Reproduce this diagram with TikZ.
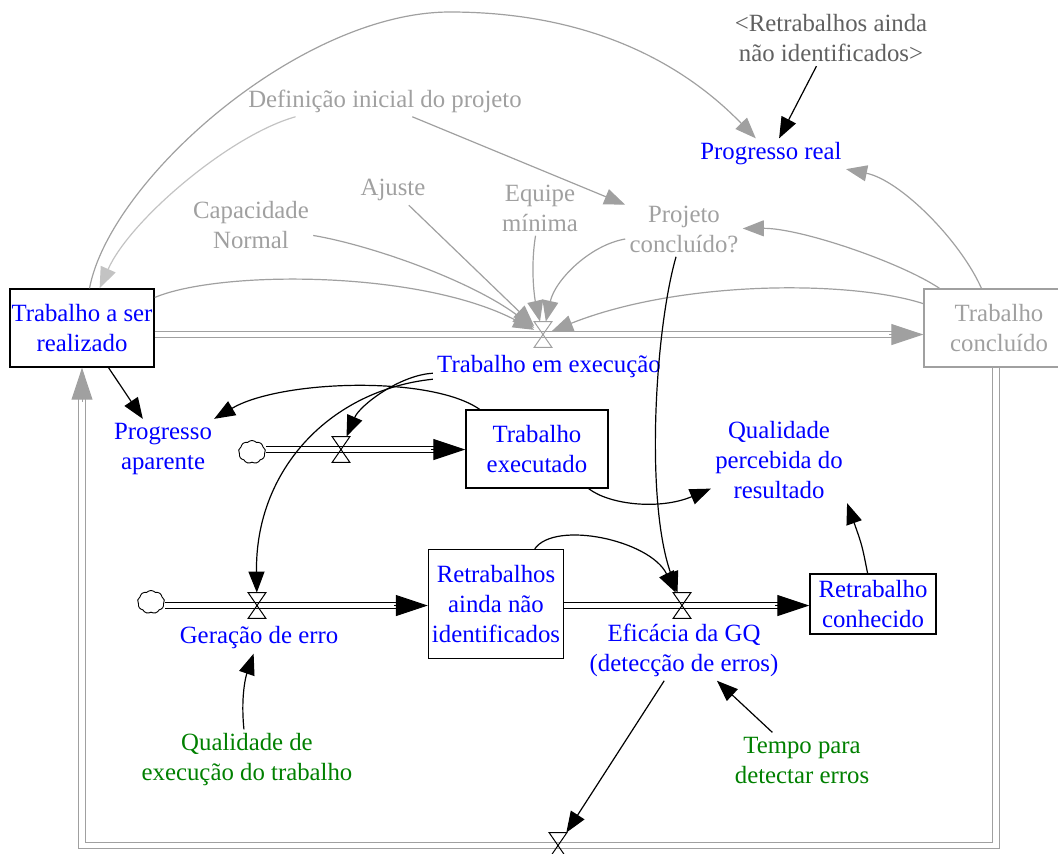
\documentclass[tikz,border=0pt]{standalone}
\usepackage{fontspec}
\setmainfont{Liberation Serif}
\usetikzlibrary{arrows.meta,calc,shapes.symbols}
\definecolor{vblue}{RGB}{0,0,255}
\definecolor{vgreen}{RGB}{0,128,0}
\definecolor{vgray}{RGB}{160,160,160}
\definecolor{vlgray}{RGB}{195,195,195}
\definecolor{vdgray}{RGB}{96,96,96}
\newcommand{\hourglass}[2]{\draw[#2, line width=0.5pt] (#1.north west) -- (#1.north east) -- (#1.south west) -- (#1.south east) -- cycle;}
\begin{document}
\begin{tikzpicture}[x=0.5pt,y=-0.5pt,
  every node/.style={font=\fontsize{12.4pt}{15pt}\selectfont, align=center, inner sep=2pt},
  lbl/.style={text=vblue},
  glbl/.style={text=vgray},
  stock/.style={draw=black, line width=0.7pt, text=vblue, inner sep=0pt},
  conn/.style={line width=0.6pt, -{Triangle[length=10.5pt,width=8pt]}},
  gconn/.style={conn, color=vgray},
  pipe/.style={draw=black, double=white, double distance=2.6pt, line width=0.55pt},
  gpipe/.style={pipe, draw=vgray},
  flowtip/.style={line width=0.5pt, -{Triangle[length=16pt,width=10.5pt]}},
  gflowtip/.style={flowtip, color=vgray},
  valvebox/.style={minimum width=8.5pt, minimum height=12.5pt, inner sep=0pt},
  cloudbox/.style={cloud, cloud puffs=9, cloud puff arc=95, aspect=1.15, draw, line width=0.45pt, minimum width=13.5pt, minimum height=11.5pt, inner sep=0pt}
]
\useasboundingbox (0,0) rectangle (1058,853);

% stocks
\node[stock, minimum width=72pt, minimum height=39pt] (tasr) at (82,328) {Trabalho a ser\\realizado};
\node[stock, draw=vgray, text=vgray, minimum width=75pt, minimum height=39pt] (tc) at (999,328) {Trabalho\\concluído};
\node[stock, minimum width=71pt, minimum height=39pt] (te) at (537,449) {Trabalho\\executado};
\node[stock, minimum width=67.5pt, minimum height=54.5pt] (rani) at (496,604) {Retrabalhos\\ainda não\\identificados};
\node[stock, minimum width=63pt, minimum height=30pt] (rc) at (873,604) {Retrabalho\\conhecido};

% auxiliaries
\node[glbl] (def) at (385,101) {Definição inicial do projeto};
\node[glbl] (cn) at (251,225) {Capacidade\\Normal};
\node[glbl] (aj) at (393,190) {Ajuste};
\node[glbl] (em) at (540,208) {Equipe\\mínima};
\node[glbl] (pc) at (684,229) {Projeto\\concluído?};
\node[text=vdgray] (rr) at (831,38) {<Retrabalhos ainda\\não identificados>};
\node[lbl] (pr) at (771,154) {Progresso real};
\node[lbl] (tex) at (549,367) {Trabalho em execução};
\node[lbl] (pa) at (163,449) {Progresso\\aparente};
\node[lbl] (qp) at (779,460) {Qualidade\\percebida do\\resultado};
\node[lbl] (ge) at (259,638) {Geração de erro};
\node[lbl] (ef) at (684,650) {Eficácia da GQ\\(detecção de erros)};
\node[text=vgreen] (qe) at (247,760) {Qualidade de\\execução do trabalho};
\node[text=vgreen] (tp) at (802,760) {Tempo para\\detectar erros};

% valves and clouds
\node[valvebox] (v0) at (543,334.5) {};
\node[valvebox] (v1) at (341,449.5) {};
\node[valvebox] (v2) at (257,605.5) {};
\node[valvebox] (v3) at (682,605.5) {};
\node[valvebox] (v4) at (558,845.5) {};
\node[cloudbox] (c1) at (252,452) {};
\node[cloudbox] (c2) at (151,602) {};

% pipes
\draw[gpipe] (tasr.east |- v0) -- ($(tc.west |- v0)+(-30,0)$);
\draw[gflowtip] ($(tc.west |- v0)+(-34,0)$) -- (tc.west |- v0);
\draw[gpipe] ($(tc.south)+(-3,0)$) |- (v4.center) -| ($(tasr.south)+(0,30)$);
\draw[gflowtip] ($(tasr.south)+(0,34)$) -- (tasr.south);
\draw[pipe] (c1.east |- v1) -- ($(te.west |- v1)+(-30,0)$);
\draw[flowtip] ($(te.west |- v1)+(-34,0)$) -- (te.west |- v1);
\draw[pipe] (c2.east |- v2) -- ($(rani.west |- v2)+(-30,0)$);
\draw[flowtip] ($(rani.west |- v2)+(-34,0)$) -- (rani.west |- v2);
\draw[pipe] (rani.east |- v3) -- ($(rc.west |- v3)+(-30,0)$);
\draw[flowtip] ($(rc.west |- v3)+(-34,0)$) -- (rc.west |- v3);

\hourglass{v0}{vgray}
\hourglass{v1}{black}
\hourglass{v2}{black}
\hourglass{v3}{black}
\hourglass{v4}{black}

% gray connectors
\draw[gconn] (tasr) .. controls (110,180) and (300,12) .. (450,12) .. controls (570,12) and (670,50) .. (pr);
\draw[conn, color=vlgray] (def.190) .. controls (230,135) and (130,220) .. (tasr);
\draw[gconn] (def.-30) -- (pc);
\draw[gconn] (cn) .. controls (370,245) and (470,280) .. (v0);
\draw[gconn] (aj) -- (v0);
\draw[gconn] (em) .. controls (530,270) and (535,300) .. (v0);
\draw[gconn] (pc) .. controls (590,245) and (555,280) .. (v0);
\draw[gconn] (tasr) .. controls (220,270) and (420,270) .. (v0);
\draw[gconn] (tc) .. controls (850,280) and (680,280) .. (v0);
\draw[gconn] (tc) .. controls (900,262) and (800,228) .. (pc);
\draw[gconn] (tc) .. controls (960,240) and (900,180) .. (pr);

% black connectors
\draw[conn] (rr) -- (pr);
\draw[conn] (tasr) -- (pa);
\draw[conn] (te) .. controls (430,375) and (280,380) .. (pa);
\draw[conn] (tex) .. controls (400,375) and (360,405) .. (v1);
\draw[conn] (tex) .. controls (330,390) and (255,470) .. (v2);
\draw[conn] (te) .. controls (610,505) and (660,510) .. (qp);
\draw[conn] (rc.100) .. controls (862,545) .. (qp.south east);
\draw[conn] (rani) .. controls (555,520) and (650,540) .. (v3);
\draw[conn] (pc) .. controls (655,330) and (645,500) .. (v3);
\draw[conn] (qe) .. controls (240,690) and (248,670) .. (ge);
\draw[conn] (tp) -- (ef);
\draw[conn] (ef) -- (v4);
\end{tikzpicture}
\end{document}
